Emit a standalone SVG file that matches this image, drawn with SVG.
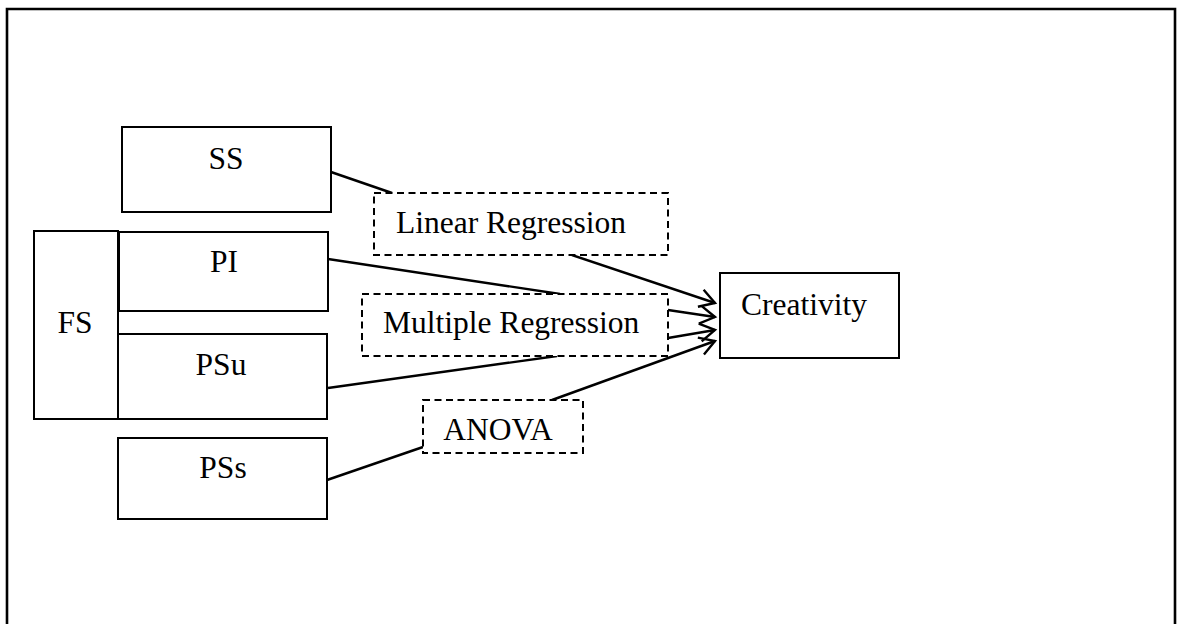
<svg xmlns="http://www.w3.org/2000/svg" width="1179" height="624" viewBox="0 0 1179 624">
  <style>
    .box { fill: #ffffff; stroke: #000000; stroke-width: 2; }
    .dash { fill: #ffffff; stroke: #000000; stroke-width: 2; stroke-dasharray: 7 4.5; }
    .lbl { font-family: "Liberation Serif", "Times New Roman", serif; font-size: 31.5px; fill: #000000; }
    .mid { text-anchor: middle; }
    .conn { fill: none; stroke: #000000; stroke-width: 2.4; }
    .arrow { marker-end: url(#open); }
  </style>
  <defs>
    <marker id="open" viewBox="0 0 22 22" refX="18" refY="11" markerWidth="22" markerHeight="22" markerUnits="userSpaceOnUse" orient="auto">
      <path d="M3,2 L18,11 L3,20" fill="none" stroke="#000000" stroke-width="2.4"/>
    </marker>
  </defs>

  <rect width="1179" height="624" fill="#ffffff"/>

  <!-- outer frame (open at the bottom edge) -->
  <path d="M7,640 V9 H1175 V640" fill="none" stroke="#000000" stroke-width="2.6"/>

  <!-- connectors -->
  <g id="connectors">
    <line class="conn" x1="331" y1="172" x2="392" y2="193"/>
    <line class="conn arrow" x1="572" y1="255" x2="715" y2="303"/>
    <line class="conn" x1="328" y1="259" x2="560" y2="294"/>
    <line class="conn arrow" x1="668" y1="310" x2="715" y2="317"/>
    <line class="conn arrow" x1="668" y1="338" x2="715" y2="330"/>
    <line class="conn" x1="328" y1="388" x2="557" y2="356"/>
    <line class="conn arrow" x1="552" y1="400" x2="715" y2="341"/>
    <line class="conn" x1="327" y1="480" x2="423" y2="447"/>
  </g>

  <g id="node-ss">
    <rect class="box" x="122" y="127" width="209" height="85"/>
    <text class="lbl mid" x="226" y="169">SS</text>
  </g>

  <g id="node-fs">
    <rect class="box" x="34" y="231" width="84" height="188"/>
    <text class="lbl mid" x="75" y="333">FS</text>
  </g>

  <g id="node-pi">
    <rect class="box" x="119" y="232" width="209" height="79"/>
    <text class="lbl mid" x="224" y="272">PI</text>
  </g>

  <g id="node-psu">
    <rect class="box" x="118" y="334" width="209" height="85"/>
    <text class="lbl mid" x="221" y="375">PSu</text>
  </g>

  <g id="node-pss">
    <rect class="box" x="118" y="438" width="209" height="81"/>
    <text class="lbl mid" x="223" y="478">PSs</text>
  </g>

  <g id="node-linear">
    <rect class="dash" x="374" y="193" width="294" height="62"/>
    <text class="lbl" x="396" y="233">Linear Regression</text>
  </g>

  <g id="node-multiple">
    <rect class="dash" x="362" y="294" width="306" height="62"/>
    <text class="lbl" x="383" y="333">Multiple Regression</text>
  </g>

  <g id="node-anova">
    <rect class="dash" x="423" y="400" width="160" height="53"/>
    <text class="lbl mid" x="498" y="440">ANOVA</text>
  </g>

  <g id="node-creativity">
    <rect class="box" x="720" y="273" width="179" height="85"/>
    <text class="lbl" x="741" y="315">Creativity</text>
  </g>
</svg>
